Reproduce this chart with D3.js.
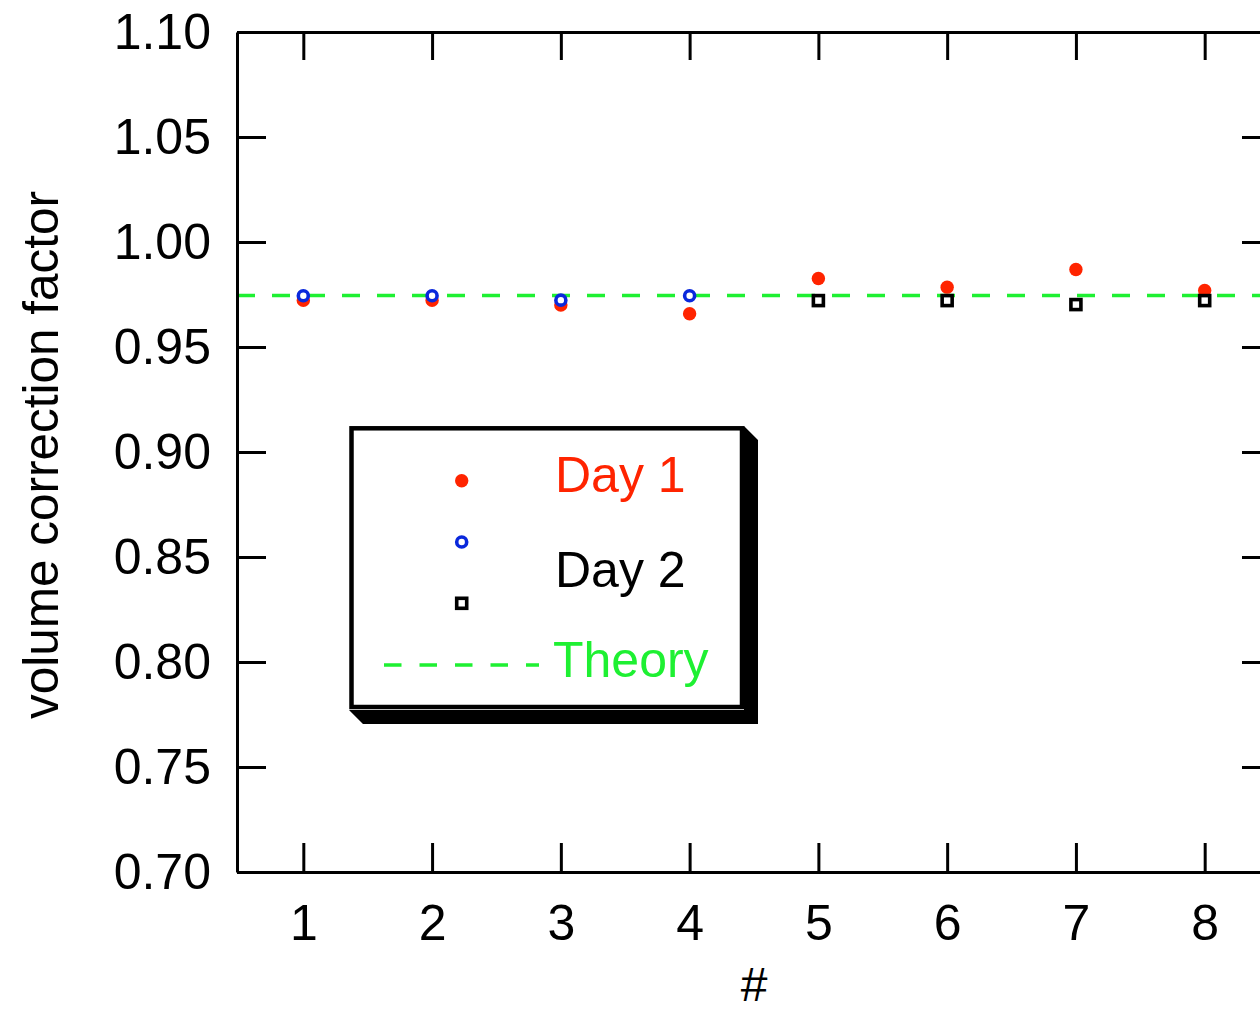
<!DOCTYPE html>
<html>
<head>
<meta charset="utf-8">
<script src="https://cdn.jsdelivr.net/npm/d3@7"></script>
<style>
  body { margin: 0; background: #fff; }
  svg text { font-family: "Liberation Sans", Arial, Helvetica, sans-serif; }
</style>
</head>
<body>
<script>
// data
var runs = [1, 2, 3, 4, 5, 6, 7, 8];
var dayOne = [0.9722, 0.9722, 0.9700, 0.9658, 0.9826, 0.9785, 0.9869, 0.9769];
var dayTwoRuns = [1, 2, 3, 4];
var dayTwoCircle = [0.9744, 0.9744, 0.9723, 0.9744];
var dayTwoSquareRuns = [5, 6, 7, 8];
var dayTwoSquare = [0.9721, 0.9721, 0.9702, 0.9721];
var theory = 0.9745;
var yTicks = [0.70, 0.75, 0.80, 0.85, 0.90, 0.95, 1.00, 1.05, 1.10];

var colors = {
    day1: "#ff2400",
    day2: "#0a28dc",
    square: "#000",
    theory: "#1ef032"
};

var width = 1260, height = 1010;
var plotLeft = 237, plotTop = 32, plotRight = 1271, plotBottom = 872;

var svg = d3.select("body").append("svg")
    .attr("width", width)
    .attr("height", height);

var x = d3.scaleLinear().domain([0.485, 8.515]).range([plotLeft, plotRight]);
var y = d3.scaleLinear().domain([0.70, 1.10]).range([plotBottom, plotTop]);

// theory line
svg.append("line")
    .attr("x1", x.range()[0]).attr("x2", x.range()[1])
    .attr("y1", y(theory)).attr("y2", y(theory))
    .attr("stroke", colors.theory)
    .attr("stroke-width", 3.5)
    .attr("stroke-dasharray", "18,17");

// day 1
svg.append("g").selectAll("circle")
    .data(dayOne)
    .enter().append("circle")
    .attr("cx", function (d, i) { return x(runs[i]); })
    .attr("cy", function (d) { return y(d); })
    .attr("r", 6.7)
    .attr("fill", colors.day1);

// day 2, circles
svg.append("g").selectAll("circle")
    .data(dayTwoCircle)
    .enter().append("circle")
    .attr("cx", function (d, i) { return x(dayTwoRuns[i]); })
    .attr("cy", function (d) { return y(d); })
    .attr("r", 5)
    .attr("fill", "#fff")
    .attr("stroke", colors.day2)
    .attr("stroke-width", 3.6);

// day 2, squares
svg.append("g").selectAll("rect")
    .data(dayTwoSquare)
    .enter().append("rect")
    .attr("x", function (d, i) { return x(dayTwoSquareRuns[i]) - 5; })
    .attr("y", function (d) { return y(d) - 5; })
    .attr("width", 10)
    .attr("height", 10)
    .attr("fill", "#fff")
    .attr("stroke", colors.square)
    .attr("stroke-width", 3.6);

// axes, ticks pointing in
function styleAxis(g) {
    g.selectAll("path, line").attr("stroke", "#000").attr("stroke-width", 3);
    g.selectAll("text").attr("fill", "#000").attr("font-size", 50)
        .attr("font-family", "'Liberation Sans', Arial, Helvetica, sans-serif");
}

svg.append("g")
    .attr("transform", "translate(" + plotLeft + ",0)")
    .call(d3.axisLeft(y).tickValues(yTicks).tickFormat(d3.format(".2f"))
        .tickSizeInner(-29).tickSizeOuter(0).tickPadding(26))
    .call(styleAxis);

svg.append("g")
    .attr("transform", "translate(" + plotRight + ",0)")
    .call(d3.axisRight(y).tickValues(yTicks).tickFormat("")
        .tickSizeInner(-29).tickSizeOuter(0))
    .call(styleAxis);

svg.append("g")
    .attr("transform", "translate(0," + plotBottom + ")")
    .call(d3.axisBottom(x).tickValues(runs).tickFormat(d3.format("d"))
        .tickSizeInner(-29).tickSizeOuter(0).tickPadding(32))
    .call(styleAxis);

svg.append("g")
    .attr("transform", "translate(0," + plotTop + ")")
    .call(d3.axisTop(x).tickValues(runs).tickFormat("")
        .tickSizeInner(-28).tickSizeOuter(0))
    .call(styleAxis);

// axis titles
svg.append("text")
    .attr("x", (plotLeft + plotRight) / 2)
    .attr("y", 1001)
    .attr("text-anchor", "middle")
    .attr("font-size", 48)
    .text("#");

svg.append("text")
    .attr("transform", "translate(58," + 455 + ") rotate(-90)")
    .attr("text-anchor", "middle")
    .attr("font-size", 49.5)
    .text("volume correction factor");

// legend with drop shadow
var legend = svg.append("g");
legend.append("polygon")
    .attr("points", "744,426 758,440 758,724 363,724 349,710 744,710")
    .attr("fill", "#000");
legend.append("rect")
    .attr("x", 351.5).attr("y", 428.3)
    .attr("width", 390.5).attr("height", 278.7)
    .attr("fill", "#fff")
    .attr("stroke", "#000")
    .attr("stroke-width", 4.5);

legend.append("circle")
    .attr("cx", 461.7).attr("cy", 480.7).attr("r", 6.7)
    .attr("fill", colors.day1);
legend.append("circle")
    .attr("cx", 461.7).attr("cy", 542).attr("r", 5)
    .attr("fill", "#fff").attr("stroke", colors.day2).attr("stroke-width", 3.6);
legend.append("rect")
    .attr("x", 456.7).attr("y", 598.3).attr("width", 10).attr("height", 10)
    .attr("fill", "#fff").attr("stroke", colors.square).attr("stroke-width", 3.6);
legend.append("line")
    .attr("x1", 384).attr("x2", 539).attr("y1", 665).attr("y2", 665)
    .attr("stroke", colors.theory).attr("stroke-width", 3.5)
    .attr("stroke-dasharray", "17.5,18");

legend.append("text").attr("x", 555).attr("y", 491.7)
    .attr("font-size", 50).attr("fill", colors.day1).text("Day 1");
legend.append("text").attr("x", 555).attr("y", 586.7)
    .attr("font-size", 50).attr("fill", "#000").text("Day 2");
legend.append("text").attr("x", 553).attr("y", 676.7)
    .attr("font-size", 50).attr("fill", colors.theory).text("Theory");
</script>
</body>
</html>
